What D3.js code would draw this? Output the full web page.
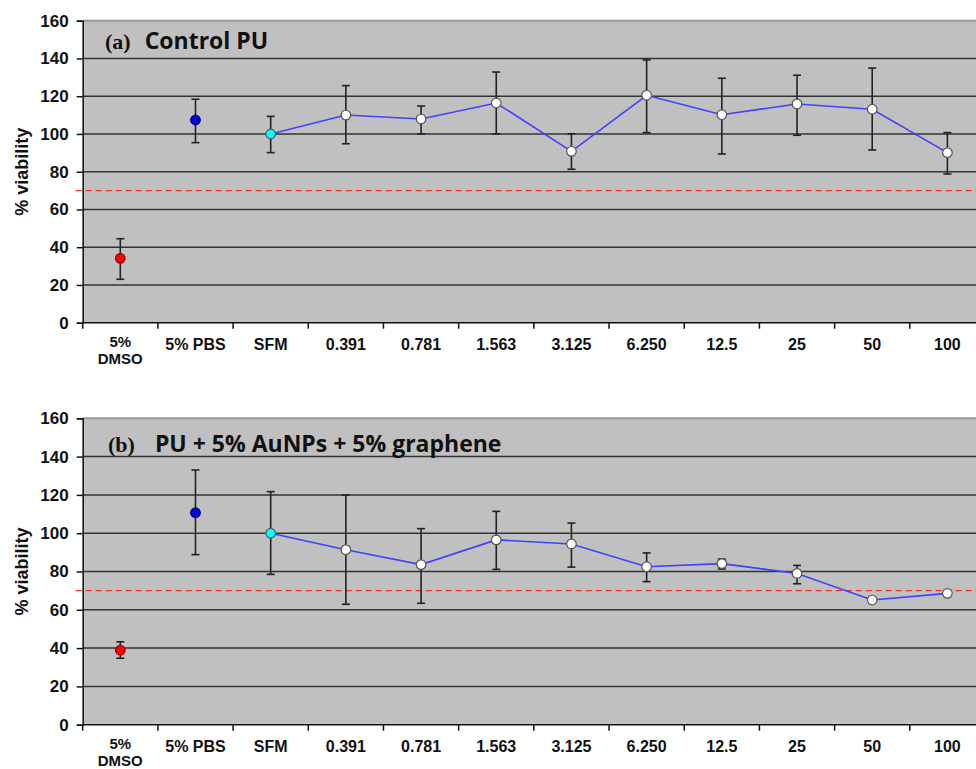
<!DOCTYPE html>
<html>
<head>
<meta charset="utf-8">
<script src="https://cdn.jsdelivr.net/npm/d3@7"></script>
<style>
  body { margin: 0; background: #fff; }
  svg { display: block; }
</style>
</head>
<body>
<div id="chart"></div>
<script>
// categories / tick labels
var categories = ["5% DMSO", "5% PBS", "SFM", "0.391", "0.781", "1.563", "3.125", "6.250", "12.5", "25", "50", "100"];
var tickLabels = [["5%", "DMSO"], ["5% PBS"], ["SFM"], ["0.391"], ["0.781"], ["1.563"], ["3.125"], ["6.250"], ["12.5"], ["25"], ["50"], ["100"]];
var yTicks = [0, 20, 40, 60, 80, 100, 120, 140, 160];
var threshold = 70;

// panel (a) control PU
var meanA  = [34.1, 107.4, 100, 110.0, 107.9, 116.4, 90.8, 120.5, 110.2, 115.9, 113.1, 90.1];
var upperA = [44.5, 118.4, 109.3, 125.6, 114.8, 132.8, 100.1, 139.2, 129.5, 131.1, 134.9, 100.7];
var lowerA = [23.0, 95.4, 90.1, 94.8, 100.0, 100.0, 81.3, 100.7, 89.4, 99.3, 91.5, 78.8];

// panel (b) PU + AuNPs + graphene
var meanB  = [38.9, 110.7, 100, 91.4, 83.6, 96.5, 94.4, 82.5, 84.1, 79.0, 65.1, 68.6];
var upperB = [43.3, 133.0, 121.7, 119.9, 102.4, 111.4, 105.3, 89.7, 86.5, 83.2, null, null];
var lowerB = [34.7, 88.8, 78.5, 62.9, 63.4, 81.1, 82.3, 74.7, 81.3, 73.6, null, null];

var width = 976, height = 769;
var left = 82.7, right = 985;

var svg = d3.select("#chart").append("svg")
  .attr("width", width)
  .attr("height", height);

var x = d3.scaleBand().domain(categories).range([left, right]).padding(0);

function fillFor(i) {
  if (i == 0) return "#ff0000";
  if (i == 1) return "#0000dd";
  if (i == 2) return "#00ffff";
  return "#ffffff";
}
function strokeFor(i) {
  if (i == 0) return "#990000";
  if (i == 1) return "#000066";
  return "#555";
}

function drawPanel(p) {
  var y = d3.scaleLinear().domain([0, 160]).range([p.bottom, p.top]);
  var g = svg.append("g");

  // plot background
  g.append("rect")
    .attr("x", left).attr("y", y(160))
    .attr("width", right - left).attr("height", y(0) - y(160))
    .attr("fill", "#c0c0c0");

  // grid lines
  g.selectAll(".grid").data(yTicks.filter(function(d){ return d > 0 && d < 160; }))
    .enter().append("line")
    .attr("x1", left).attr("x2", right)
    .attr("y1", function(d){ return y(d); }).attr("y2", function(d){ return y(d); })
    .attr("stroke", "#333").attr("stroke-width", 1.5);

  // top border
  g.append("line")
    .attr("x1", left).attr("x2", right)
    .attr("y1", y(160)).attr("y2", y(160))
    .attr("stroke", "#999").attr("stroke-width", 2);

  // threshold line
  g.append("line")
    .attr("x1", left - 7).attr("x2", right)
    .attr("y1", y(threshold)).attr("y2", y(threshold))
    .attr("stroke", "#e8302a").attr("stroke-width", 1.3)
    .attr("stroke-dasharray", "6,4");

  // y axis
  var yAxis = g.append("g")
    .attr("transform", "translate(" + left + ",0)")
    .call(d3.axisLeft(y).tickValues(yTicks).tickSize(6).tickPadding(8));
  yAxis.select(".domain").attr("stroke", "#111").attr("stroke-width", 1.5);
  yAxis.selectAll(".tick line").attr("stroke", "#111").attr("stroke-width", 1.5);
  yAxis.selectAll(".tick text")
    .attr("font-family", "'Liberation Sans', Arial, sans-serif")
    .attr("font-weight", "bold").attr("font-size", 17).attr("fill", "#111");

  // x axis line + ticks at band boundaries
  g.append("line")
    .attr("x1", left).attr("x2", right)
    .attr("y1", y(0)).attr("y2", y(0))
    .attr("stroke", "#111").attr("stroke-width", 1.5);
  g.selectAll(".xt").data(categories)
    .enter().append("line")
    .attr("x1", function(d){ return x(d); }).attr("x2", function(d){ return x(d); })
    .attr("y1", y(0)).attr("y2", y(0) + 6)
    .attr("stroke", "#111").attr("stroke-width", 1.5);

  // x labels (two-line label a bit tighter so it fits the page)
  var lab = g.selectAll(".xl").data(categories)
    .enter().append("text")
    .attr("x", function(d){ return x(d) + x.bandwidth() / 2; })
    .attr("y", function(d, i){ return y(0) + (tickLabels[i].length > 1 ? 24.5 : 27); })
    .attr("text-anchor", "middle")
    .attr("font-family", "'Liberation Sans', Arial, sans-serif")
    .attr("font-weight", "bold")
    .attr("font-size", function(d, i){ return tickLabels[i].length > 1 ? 15 : 16; })
    .attr("fill", "#111");
  lab.each(function(d, i) {
    var t = d3.select(this);
    tickLabels[i].forEach(function(s, k) {
      t.append("tspan")
        .attr("x", x(d) + x.bandwidth() / 2)
        .attr("dy", k == 0 ? 0 : 16.6)
        .text(s);
    });
  });

  // y label
  g.append("text")
    .attr("transform", "translate(28," + (y(0) + y(160)) / 2 + ") rotate(-90)")
    .attr("text-anchor", "middle")
    .attr("font-family", "'Liberation Sans', Arial, sans-serif")
    .attr("font-weight", "bold").attr("font-size", 18).attr("fill", "#111")
    .text("% viability");

  // title
  var title = g.append("text")
    .attr("x", p.titleX).attr("y", p.titleY)
    .attr("fill", "#111");
  title.append("tspan")
    .attr("font-family", "'Liberation Serif', 'Times New Roman', serif")
    .attr("font-weight", "bold").attr("font-size", 22)
    .text(p.tag);
  title.append("tspan")
    .attr("dx", p.gap)
    .attr("font-family", "'Open Sans', sans-serif")
    .attr("font-weight", "bold").attr("font-size", 23)
    .text(p.title);

  var cx = function(i){ return x(categories[i]) + x.bandwidth() / 2; };

  // line through SFM..100
  var idx = d3.range(2, categories.length);
  g.append("path")
    .datum(idx)
    .attr("fill", "none")
    .attr("stroke", "#4040ff").attr("stroke-width", 1.6)
    .attr("d", d3.line().x(function(i){ return cx(i); }).y(function(i){ return y(p.mean[i]); }));

  // error bars
  var eb = d3.range(categories.length).filter(function(i){ return p.upper[i] != null; });
  var bars = g.selectAll(".eb").data(eb).enter().append("g")
    .attr("stroke", "#222").attr("stroke-width", 1.6);
  bars.append("line")
    .attr("x1", cx).attr("x2", cx)
    .attr("y1", function(i){ return y(p.upper[i]); })
    .attr("y2", function(i){ return y(p.lower[i]); });
  bars.append("line")
    .attr("x1", function(i){ return cx(i) - 4; }).attr("x2", function(i){ return cx(i) + 4; })
    .attr("y1", function(i){ return y(p.upper[i]); }).attr("y2", function(i){ return y(p.upper[i]); });
  bars.append("line")
    .attr("x1", function(i){ return cx(i) - 4; }).attr("x2", function(i){ return cx(i) + 4; })
    .attr("y1", function(i){ return y(p.lower[i]); }).attr("y2", function(i){ return y(p.lower[i]); });

  // markers
  g.selectAll(".pt").data(d3.range(categories.length)).enter().append("circle")
    .attr("cx", cx)
    .attr("cy", function(i){ return y(p.mean[i]); })
    .attr("r", 4.8)
    .attr("fill", fillFor)
    .attr("stroke", strokeFor)
    .attr("stroke-width", 1.2);
}

drawPanel({ top: 20.7, bottom: 322.7, mean: meanA, upper: upperA, lower: lowerA,
  tag: "(a)", title: "Control PU", titleX: 105, titleY: 49, gap: 14 });
drawPanel({ top: 418.3, bottom: 724.7, mean: meanB, upper: upperB, lower: lowerB,
  tag: "(b)", title: "PU + 5% AuNPs + 5% graphene", titleX: 108, titleY: 451.5, gap: 20 });
</script>
</body>
</html>
